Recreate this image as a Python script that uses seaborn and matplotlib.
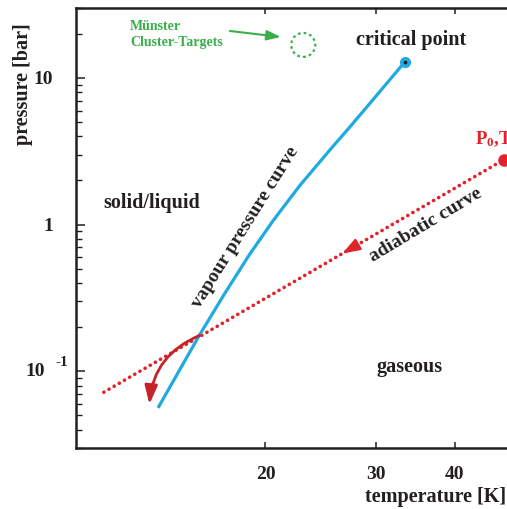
import numpy as np
import pandas as pd
import matplotlib
matplotlib.use("Agg")
import matplotlib.pyplot as plt
import seaborn as sns
from matplotlib.patches import Circle, FancyArrowPatch
from matplotlib.transforms import ScaledTranslation

# Hydrogen vapour pressure curve (K, bar), triple point up to the critical point
vp_T = [13.50, 15.68, 17.25, 18.89, 20.55, 22.68, 25.31, 27.23, 30.16, 33.29]
vp_P = [0.0563, 0.1743, 0.3423, 0.6314, 1.060, 1.850, 3.230, 4.634, 7.780, 12.86]

# Adiabatic expansion line ending at the stagnation conditions P0, T0
ad_T = [11.07, 47.8]
ad_P = [0.072, 2.77]

crit_T, crit_P = 33.29, 12.86
target_T, target_P = 22.96, 16.8

# curved arrow: path of the expanding jet after crossing the vapour curve
jet_start = (15.73, 0.176)
jet_end = (13.08, 0.0596)
flow_arrow_T = 26.5

x_ticks = [20, 30, 40]
x_ticklabels = ["20", "30", "40"]
y_ticks = [0.1, 1, 10]
y_ticklabels = ["", "1", "10"]

BLUE = "#1FAAE0"
RED = "#E2232B"
DARKRED = "#C62229"
GREEN = "#3AAE49"
INK = "#231F20"

sns.set_theme(style="white")
plt.rcParams["font.family"] = ["Liberation Serif", "DejaVu Serif"]
plt.rcParams["font.weight"] = "bold"
plt.rcParams["mathtext.fontset"] = "custom"
plt.rcParams["mathtext.rm"] = "Liberation Serif:bold"
plt.rcParams["mathtext.bf"] = "Liberation Serif:bold"
plt.rcParams["mathtext.it"] = "Liberation Serif:bold"

fig = plt.figure(figsize=(5.07, 5.09), dpi=100)
ax = fig.add_axes([76 / 507, 61 / 509, 440 / 507, 440 / 509])

vp = pd.DataFrame({"T": vp_T, "P": vp_P})
ad = pd.DataFrame({"T": ad_T, "P": ad_P})

sns.lineplot(data=vp, x="T", y="P", ax=ax, color=BLUE, lw=2.3, sort=False,
             solid_capstyle="butt", solid_joinstyle="round", zorder=3)
sns.lineplot(data=ad, x="T", y="P", ax=ax, color=RED, lw=2.6, sort=False,
             linestyle=(0, (0.05, 1.6)), dash_capstyle="round", zorder=2)

ax.set_xscale("log")
ax.set_yscale("log")
ax.set_xlim(10, 50)
ax.set_ylim(0.03, 30)

# critical point marker
ax.plot([crit_T], [crit_P], "o", ms=7, color=BLUE, mec=BLUE, zorder=4)
ax.plot([crit_T], [crit_P], "o", ms=1.6, color=INK, zorder=5)

# P0, T0 start point
ax.plot([ad_T[-1]], [ad_P[-1]], "o", ms=8, color=RED, zorder=4, clip_on=False)

# arrowhead on the adiabatic line
lt = np.log10(ad_T)
lp = np.log10(ad_P)
def on_line(t):
    return 10 ** np.interp(np.log10(t), lt, lp)
ax.annotate("", xy=(flow_arrow_T, on_line(flow_arrow_T)),
            xytext=(flow_arrow_T * 1.04, on_line(flow_arrow_T * 1.04)),
            arrowprops=dict(arrowstyle="-|>,head_length=0.9,head_width=0.32",
                            color=RED, lw=1.5, shrinkA=0, shrinkB=0), zorder=4)

# curved arrow after the crossing
jet = FancyArrowPatch(jet_start, jet_end, connectionstyle="arc3,rad=0.3",
                      arrowstyle="-|>,head_length=7,head_width=2.4",
                      color=DARKRED, lw=2.0, mutation_scale=1.6,
                      shrinkA=0, shrinkB=0, zorder=4)
ax.add_patch(jet)

# cluster target operating region
ring = Circle((0, 0), 0.12, transform=fig.dpi_scale_trans +
              ScaledTranslation(target_T, target_P, ax.transData),
              fill=False, ec=GREEN, lw=1.6, ls=(0, (1.2, 1.4)))
ax.add_patch(ring)
ax.annotate("", xy=(21.15, 19.03), xytext=(17.56, 20.91),
            arrowprops=dict(arrowstyle="-|>,head_length=0.7,head_width=0.25",
                            color=GREEN, lw=1.5, shrinkA=0, shrinkB=0))
ax.text(12.18, 19.8, "Münster\nCluster-Targets", color=GREEN, fontsize=10,
        fontweight="bold", ha="left", va="center", linespacing=1.25)

# region and curve labels
ax.text(34.1, 18.1, "critical point", fontsize=14.5, color=INK, ha="center", va="center")
ax.text(13.17, 1.41, "solid/liquid", fontsize=14.5, color=INK, ha="center", va="center")
ax.text(33.9, 0.107, "gaseous", fontsize=14.5, color=INK, ha="center", va="center")
ax.text(18.6, 0.96, "vapour pressure curve", fontsize=14, color=INK,
        rotation=58, rotation_mode="anchor", ha="center", va="center")
ax.text(35.9, 0.99, "adiabatic curve", fontsize=14, color=INK,
        rotation=31, rotation_mode="anchor", ha="center", va="center")
ax.text(43.0, 3.85, r"P$_0$,T$_0$", fontsize=13.5, color=RED, ha="left",
        va="center", clip_on=False)

# axes styling
for side in ["left", "top", "bottom"]:
    ax.spines[side].set_visible(True)
    ax.spines[side].set_linewidth(1.8)
    ax.spines[side].set_color(INK)
ax.spines["right"].set_visible(False)

ax.set_xticks(x_ticks)
ax.set_xticklabels(x_ticklabels)
ax.xaxis.set_minor_locator(matplotlib.ticker.NullLocator())
ax.set_yticks(y_ticks)
ax.set_yticklabels(y_ticklabels)
ax.yaxis.set_minor_locator(matplotlib.ticker.LogLocator(base=10, subs=np.arange(2, 10)))
ax.yaxis.set_minor_formatter(matplotlib.ticker.NullFormatter())
ax.tick_params(axis="x", which="major", direction="in", length=4, width=1.1,
               color=INK, labelsize=14, labelcolor=INK, pad=13, top=True, bottom=True)
ax.tick_params(axis="y", which="major", direction="in", length=6.5, width=1.1,
               color=INK, labelsize=14, labelcolor=INK, pad=16.5, left=True, right=False)
ax.tick_params(axis="y", which="minor", direction="in", length=4, width=1.0,
               color=INK, left=True, right=False)

# the 10^-1 label with its raised exponent
tick_tr = ax.get_yaxis_transform()
ax.annotate("10", xy=(0, 0.1), xycoords=tick_tr, xytext=(-31, 0),
            textcoords="offset pixels", ha="right", va="center",
            fontsize=14, color=INK, fontweight="bold")
ax.annotate("-1", xy=(0, 0.1), xycoords=tick_tr, xytext=(-8, 9),
            textcoords="offset pixels", ha="right", va="center",
            fontsize=11, color=INK, fontweight="bold")

ax.set_xlabel("temperature [K]", fontsize=14.5, color=INK, fontweight="bold")
ax.xaxis.set_label_coords((365 - 76) / 440, -(497 - 448) / 440)
ax.xaxis.label.set_horizontalalignment("left")
ax.xaxis.label.set_verticalalignment("center")
ax.set_ylabel("pressure [bar]", fontsize=14.5, color=INK, fontweight="bold")
ax.yaxis.set_label_coords(-(76 - 23) / 440, (448 - 23) / 440)
ax.yaxis.label.set_horizontalalignment("right")
ax.yaxis.label.set_verticalalignment("center")

fig.savefig("out.png", dpi=100)
